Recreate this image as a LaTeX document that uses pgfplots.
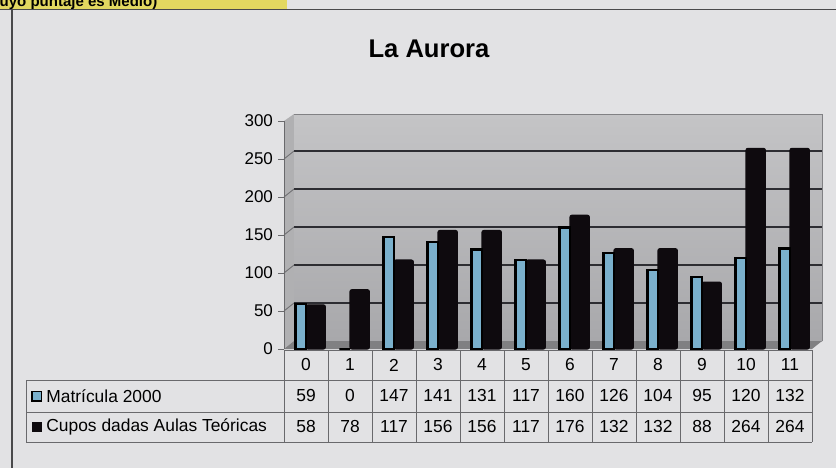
\documentclass[border=0pt]{standalone}
\usepackage{pgfplots}
\pgfplotsset{compat=1.18}
\usepackage{fontspec}
\setmainfont{Liberation Sans}
\definecolor{paper}{RGB}{226,226,228}
\definecolor{strip}{RGB}{226,216,96}
\definecolor{wallt}{RGB}{196,196,198}
\definecolor{wallb}{RGB}{168,168,171}
\definecolor{side}{RGB}{176,176,178}
\definecolor{floor}{RGB}{128,128,130}
\definecolor{gridc}{RGB}{45,45,50}
\definecolor{matri}{RGB}{122,176,204}
\definecolor{cupos}{RGB}{14,10,14}
\definecolor{rule}{RGB}{105,105,108}

\begin{document}
\begin{tikzpicture}
\clip (0,0) rectangle (418pt,234pt);
% page, in pixel units (origin top left)
\begin{scope}[shift={(0,234pt)}, x=0.5pt, y=-0.5pt]
  \fill[paper] (0,0) rectangle (836,468);
  \fill[strip] (0,0) rectangle (287,9);
  \node[anchor=base west, inner sep=0, font=\bfseries\fontsize{7.5}{9}\selectfont]
    at (-9,6) {cuyo puntaje es Medio)};
  \draw[rule!70!black, line width=0.6pt] (0,9.5) -- (836,9.5);
  \draw[rule!70!black, line width=0.6pt] (12,9.5) -- (12,468);
  % 3D walls
  \fill[side] (284,121) -- (294,114) -- (294,341) -- (284,349) -- cycle;
  \shade[top color=wallt, bottom color=wallb] (294,114) rectangle (822,341);
  \fill[floor] (284,349) -- (294,341) -- (822,341) -- (812,349) -- cycle;
  \foreach \v in {50,100,150,200,250} {
    \draw[gridc, line width=0.7pt] (294,{341-0.76*\v}) -- (822,{341-0.76*\v});
    \draw[gridc!70, line width=0.4pt] (284,{349-0.76*\v}) -- (294,{341-0.76*\v});
  }
  \draw[gridc!60, line width=0.4pt] (294,114) -- (822,114) -- (822,341);
\end{scope}

\begin{axis}[
  at={(142pt,59.5pt)}, anchor=south west,
  scale only axis, width=264pt, height=114pt,
  xmin=-0.5, xmax=11.5, ymin=0, ymax=300,
  axis x line=none, axis y line=left,
  axis line style={-, draw=rule, line width=0.5pt},
  ytick={0,50,...,300},
  tick style={draw=rule, line width=0.5pt},
  major tick length=3pt, tick align=outside,
  yticklabel style={font=\fontsize{8.5}{10}\selectfont, xshift=1pt},
  /pgf/number format/assume math mode=true,
  ybar,
]
\addplot[fill=cupos, draw=cupos, line width=0.6pt, bar width=0.44, bar shift=0.22,
         rounded corners=1pt] coordinates {
  (0,58)(1,78)(2,117)(3,156)(4,156)(5,117)
  (6,176)(7,132)(8,132)(9,88)(10,264)(11,264)
};
\addplot[fill=matri, draw=black, line width=1.2pt, bar width=0.24, bar shift=-0.12] coordinates {
  (0,59)(1,0)(2,147)(3,141)(4,131)(5,117)
  (6,160)(7,126)(8,104)(9,95)(10,120)(11,132)
};
\end{axis}

% title and data table
\begin{scope}[shift={(0,234pt)}, x=0.5pt, y=-0.5pt]
  \node[font=\bfseries\fontsize{12.8}{15}\selectfont] at (429,49) {La Aurora};
  \draw[rule, line width=0.5pt] (284,350) -- (812,350);
  \draw[rule, line width=0.5pt] (26,380) -- (812,380);
  \draw[rule, line width=0.5pt] (26,412) -- (812,412);
  \draw[rule, line width=0.5pt] (26,442) -- (812,442);
  \draw[rule, line width=0.5pt] (26,380) -- (26,442);
  \foreach \i in {0,...,12} {
    \draw[rule, line width=0.5pt] ({284+44*\i},350) -- ({284+44*\i},442);
  }
  \foreach \c [count=\i from 0] in {0,1,2,3,4,5,6,7,8,9,10,11}
    \node[font=\fontsize{8.7}{10}\selectfont] at ({306+44*\i},365) {\c};
  \foreach \v [count=\i from 0] in {59,0,147,141,131,117,160,126,104,95,120,132}
    \node[font=\fontsize{8.7}{10}\selectfont] at ({306+44*\i},396) {\v};
  \foreach \v [count=\i from 0] in {58,78,117,156,156,117,176,132,132,88,264,264}
    \node[font=\fontsize{8.7}{10}\selectfont] at ({306+44*\i},427) {\v};
  \filldraw[fill=matri, draw=black, line width=0.8pt] (32,391.5) rectangle (41.5,401);
  \fill[cupos] (31.5,422) rectangle (42,431.5);
  \node[anchor=west, inner sep=0, font=\fontsize{8.7}{10}\selectfont] at (46,396) {Matrícula 2000};
  \node[anchor=west, inner sep=0, font=\fontsize{8.7}{10}\selectfont] at (46,427) {Cupos dadas Aulas Teóricas};
\end{scope}
\end{tikzpicture}
\end{document}
